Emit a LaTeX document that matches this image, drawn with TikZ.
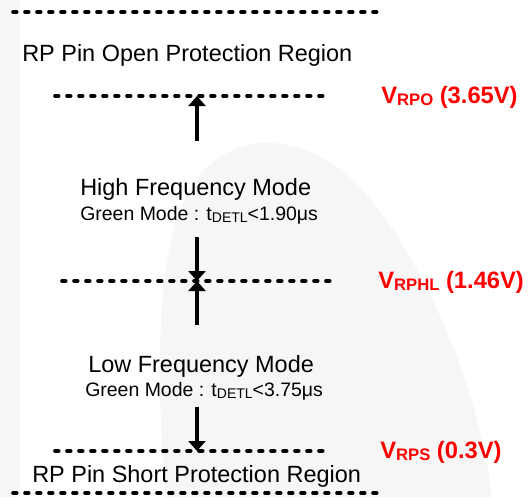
\documentclass[tikz,border=0pt]{standalone}
\usepackage{fontspec}
\setmainfont{Liberation Sans}
\usetikzlibrary{arrows.meta}
\definecolor{bgg}{HTML}{F6F6F6}
\definecolor{vred}{HTML}{FF0000}
\newcommand{\gsub}[1]{\raisebox{-2pt}{\fontsize{10.5}{11}\selectfont #1}}
\newcommand{\vsub}[1]{\raisebox{-1.5pt}{\fontsize{12.5}{13}\selectfont #1}}
\begin{document}
\begin{tikzpicture}[x=0.75pt,y=-0.75pt,
  dline/.style={line width=2.7pt, dash pattern=on 2.8pt off 6.2pt, line cap=round},
  arr/.style={line width=3pt, -{Triangle[width=12.75pt,length=7.5pt]}},
  big/.style={font=\fontsize{17.6}{20}\selectfont, inner sep=0, anchor=base west},
  small/.style={font=\fontsize{14.6}{17}\selectfont, inner sep=0, anchor=base west},
  volt/.style={font=\fontsize{17.8}{20}\selectfont\bfseries, text=vred, inner sep=0, anchor=base west}]
\useasboundingbox (0,0) rectangle (532,497);
% background decoration
\fill[bgg] (0,0) rectangle (20,497);
\fill[bgg] (165,497) .. controls (158,400) and (155,280) .. (178,215)
  .. controls (198,160) and (235,142) .. (270,143)
  .. controls (320,145) and (355,175) .. (390,225)
  .. controls (440,300) and (480,400) .. (492,497) -- cycle;
% dashed level lines
\coordinate (t1) at (13,12);   \coordinate (t2) at (377,12);
\coordinate (o1) at (55,96);   \coordinate (o2) at (328,96);
\coordinate (h1) at (62,281);  \coordinate (h2) at (335,281);
\coordinate (s1) at (55,451);  \coordinate (s2) at (328,451);
\coordinate (b1) at (13,493);  \coordinate (b2) at (377,493);
\draw[dline] (t1) -- (t2);
\draw[dline] (o1) -- (o2);
\draw[dline] (h1) -- (h2);
\draw[dline] (s1) -- (s2);
\draw[dline] (b1) -- (b2);
% arrows
\coordinate (a1s) at (197,141); \coordinate (a1e) at (197,96);
\coordinate (a2s) at (197,237); \coordinate (a2e) at (197,281);
\coordinate (a3s) at (197,325); \coordinate (a3e) at (197,281);
\coordinate (a4s) at (197,407); \coordinate (a4e) at (197,451);
\draw[arr] (a1s) -- (a1e);
\draw[arr] (a2s) -- (a2e);
\draw[arr] (a3s) -- (a3e);
\draw[arr] (a4s) -- (a4e);
% texts
\node[big] (open) at (22,61) {RP Pin Open Protection Region};
\node[big] (hf) at (80,195) {High Frequency Mode};
\node[small] (g1) at (80,220) {Green Mode : t\gsub{DETL}<1.90μs};
\node[big] (lf) at (88,372) {Low Frequency Mode};
\node[small] (g2) at (85,396) {Green Mode : t\gsub{DETL}<3.75μs};
\node[big] (short) at (32,482) {RP Pin Short Protection Region};
% voltage labels
\node[volt] (vrpo) at (381,103) {V\vsub{RPO} (3.65V)};
\node[volt] (vrphl) at (378,288) {V\vsub{RPHL} (1.46V)};
\node[volt] (vrps) at (380,458) {V\vsub{RPS} (0.3V)};
\end{tikzpicture}
\end{document}
